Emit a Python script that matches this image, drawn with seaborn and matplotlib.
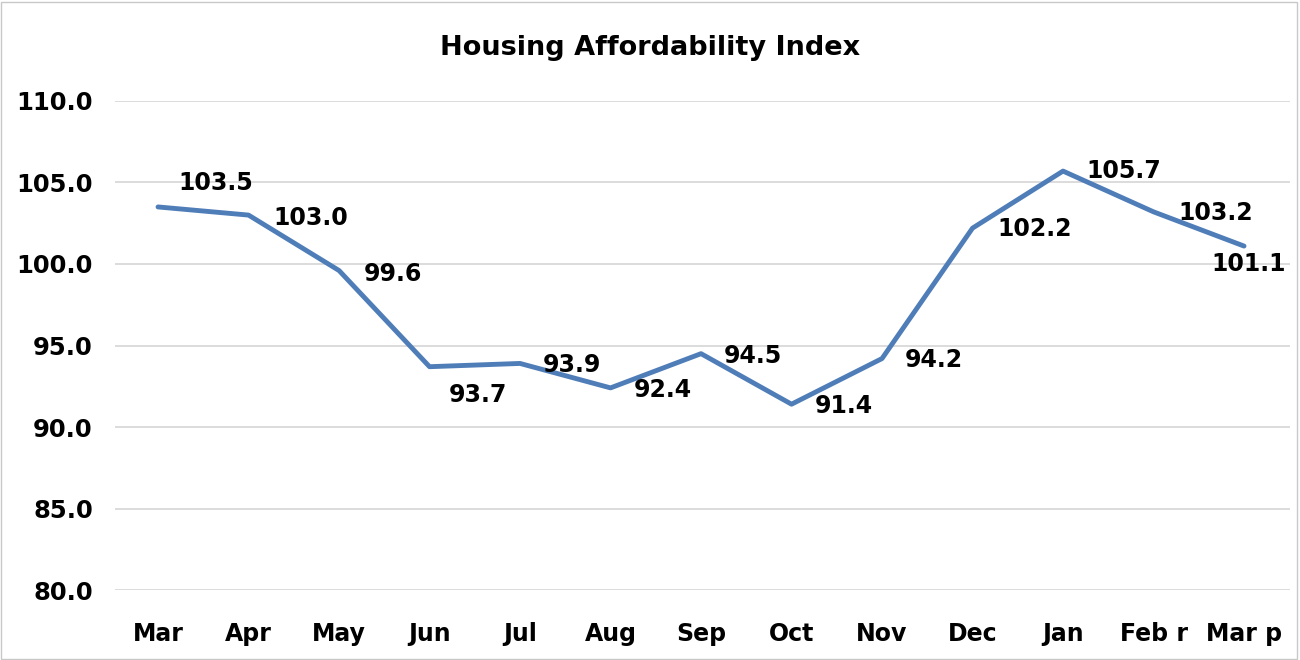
import matplotlib
matplotlib.use("Agg")
import matplotlib.pyplot as plt
import seaborn as sns
import pandas as pd
from matplotlib.patches import Rectangle

months = ["Mar", "Apr", "May", "Jun", "Jul", "Aug", "Sep", "Oct", "Nov", "Dec", "Jan", "Feb r", "Mar p"]
index_values = [103.5, 103.0, 99.6, 93.7, 93.9, 92.4, 94.5, 91.4, 94.2, 102.2, 105.7, 103.2, 101.1]
# label offsets in pixels (dx, dy) relative to each point
label_offsets = [(58, 24), (62, -3), (54, -3), (48, -28), (52, -2), (52, -2), (52, -2),
                 (52, -2), (52, -1), (62, -1), (61, 0), (62, -1), (5, -18)]

df = pd.DataFrame({"pos": range(len(months)), "value": index_values})

sns.set_theme(style="white")
plt.rcParams["font.family"] = ["DejaVu Sans"]
plt.rcParams["text.color"] = "black"
plt.rcParams["xtick.color"] = "black"
plt.rcParams["ytick.color"] = "black"

fig = plt.figure(figsize=(13, 6.6), dpi=100)
ax = fig.add_axes([0.0885, 0.106, 0.9038, 0.741])

sns.lineplot(data=df, x="pos", y="value", ax=ax, color="#4F7DB8", linewidth=3.5)

for i, (v, off) in enumerate(zip(index_values, label_offsets)):
    ax.annotate(f"{v:.1f}", (i, v), xytext=off, textcoords="offset pixels",
                ha="center", va="center", fontsize=17, fontweight="bold", color="black")

ticks = [80, 85, 90, 95, 100, 105, 110]
ax.set_ylim(80, 110)
ax.set_xlim(-0.475, 12.508)
ax.set_yticks(ticks)
ax.set_yticklabels([f"{t:.1f}" for t in ticks], fontsize=17.5, fontweight="bold", color="black")
ax.set_xticks(range(len(months)))
ax.set_xticklabels(months, fontsize=17, fontweight="bold", color="black")
ax.set_xlabel("")
ax.set_ylabel("")
ax.grid(axis="y", color="#D9D9D9", linewidth=1.3)
ax.set_axisbelow(True)
for s in ax.spines.values():
    s.set_visible(False)
ax.tick_params(axis="y", length=0, pad=16)
ax.tick_params(axis="x", length=0, pad=23)

fig.text(0.5, 0.927, "Housing Affordability Index", ha="center", va="center",
         fontsize=19.5, fontweight="bold", color="black")
fig.patches.append(Rectangle((0.001, 0.002), 0.997, 0.995, transform=fig.transFigure,
                             fill=False, edgecolor="#C8C8C8", linewidth=1))

fig.savefig("out.png", dpi=100)
